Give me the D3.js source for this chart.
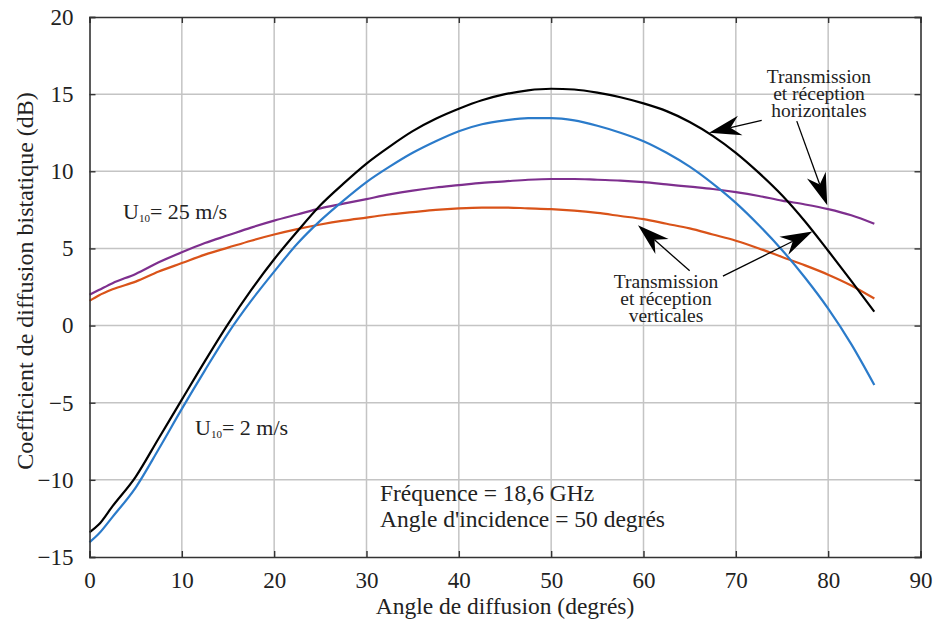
<!DOCTYPE html>
<html>
<head>
<meta charset="utf-8">
<script src="https://cdn.jsdelivr.net/npm/d3@7"></script>
<style>
  body { margin: 0; background: #fff; }
  svg text { font-family: "Liberation Serif", "Times New Roman", serif; fill: #222; }
</style>
</head>
<body>
<div id="chart"></div>
<script>
// scattering angle (deg)
var angles = [0, 1, 2.5, 5, 7.5, 10, 12.5, 15, 17.5, 20, 22.5, 25, 27.5, 30, 32.5, 35, 37.5, 40, 42.5,
  45, 47.5, 50, 52.5, 55, 57.5, 60, 62.5, 65, 67.5, 70, 72.5, 75, 77.5, 80, 82.5, 85];

// U10 = 2 m/s, horizontal (black)
var hh2 = [-13.4, -12.9, -11.7, -9.8, -7.3, -4.8, -2.3, 0.1, 2.3, 4.3, 6.1, 7.8, 9.2, 10.5, 11.6, 12.6,
  13.4, 14.05, 14.6, 15.0, 15.25, 15.35, 15.3, 15.1, 14.8, 14.4, 13.9, 13.2, 12.3, 11.2, 9.9, 8.45,
  6.75, 4.85, 2.9, 0.9];
// U10 = 2 m/s, vertical (blue)
var vv2 = [-14.05, -13.5, -12.4, -10.5, -8.0, -5.4, -2.9, -0.5, 1.6, 3.5, 5.3, 6.8, 8.1, 9.3, 10.3, 11.2,
  11.95, 12.6, 13.05, 13.3, 13.45, 13.45, 13.3, 12.95, 12.5, 11.95, 11.2, 10.3, 9.2, 7.95, 6.5, 4.9,
  3.1, 1.1, -1.2, -3.85];
// U10 = 25 m/s, horizontal (purple)
var hh25 = [2.0, 2.3, 2.75, 3.35, 4.1, 4.75, 5.35, 5.85, 6.35, 6.8, 7.2, 7.6, 7.9, 8.2, 8.5, 8.75,
  8.95, 9.1, 9.25, 9.35, 9.45, 9.5, 9.5, 9.45, 9.4, 9.3, 9.15, 9.0, 8.85, 8.65, 8.4, 8.1,
  7.85, 7.55, 7.15, 6.6];
// U10 = 25 m/s, vertical (orange)
var vv25 = [1.6, 1.95, 2.35, 2.85, 3.5, 4.05, 4.6, 5.05, 5.5, 5.9, 6.25, 6.55, 6.8, 7.0, 7.2, 7.35,
  7.5, 7.6, 7.65, 7.65, 7.6, 7.55, 7.45, 7.3, 7.1, 6.9, 6.6, 6.3, 5.9, 5.5, 5.0, 4.45,
  3.9, 3.3, 2.6, 1.75];

var xTicks = [0, 10, 20, 30, 40, 50, 60, 70, 80, 90];
var yTicks = [-15, -10, -5, 0, 5, 10, 15, 20];

var series = [
  { name: "vv25", values: vv25, color: "#d95319" },
  { name: "hh25", values: hh25, color: "#7e2f8e" },
  { name: "vv2", values: vv2, color: "#2b7bca" },
  { name: "hh2", values: hh2, color: "#000000" }
];

// arrows, in data units: [fromAngle, fromDb, toAngle, toDb]
var arrows = [
  [72.8, 13.3, 67.1, 12.5],
  [76.6, 13.25, 79.9, 7.8],
  [65.0, 3.55, 59.4, 6.5],
  [68.6, 3.2, 78.3, 6.1]
];

var width = 934, height = 625;
var margin = { left: 89.5, right: 13.5, top: 17, bottom: 68 };

var svg = d3.select("#chart").append("svg")
  .attr("width", width)
  .attr("height", height);

var x = d3.scaleLinear().domain([0, 90]).range([margin.left, width - margin.right]);
var y = d3.scaleLinear().domain([-15, 20]).range([height - margin.bottom, margin.top]);

// grid
svg.append("g").selectAll("line.vg")
  .data(xTicks.slice(1, -1))
  .enter().append("line")
  .attr("x1", d => x(d)).attr("x2", d => x(d))
  .attr("y1", y(-15)).attr("y2", y(20))
  .attr("stroke", "#c4c4c4").attr("stroke-width", 1.5);
svg.append("g").selectAll("line.hg")
  .data(yTicks.slice(1, -1))
  .enter().append("line")
  .attr("x1", x(0)).attr("x2", x(90))
  .attr("y1", d => y(d)).attr("y2", d => y(d))
  .attr("stroke", "#c4c4c4").attr("stroke-width", 1.5);

// curves
var line = d3.line()
  .x((d, i) => x(angles[i]))
  .y(d => y(d))
  .curve(d3.curveMonotoneX);

svg.append("g").selectAll("path")
  .data(series)
  .enter().append("path")
  .attr("d", d => line(d.values))
  .attr("fill", "none")
  .attr("stroke", d => d.color)
  .attr("stroke-width", 2.2);

// axes box with inward ticks
var tk = 6;
svg.append("g").attr("transform", "translate(0," + y(-15) + ")")
  .call(d3.axisBottom(x).tickValues(xTicks).tickSize(-tk).tickPadding(14))
  .call(g => g.selectAll("text").attr("font-size", 23).attr("dy", "0.72em"));
svg.append("g").attr("transform", "translate(0," + y(20) + ")")
  .call(d3.axisTop(x).tickValues(xTicks).tickSize(-tk).tickFormat(""));
svg.append("g").attr("transform", "translate(" + x(0) + ",0)")
  .call(d3.axisLeft(y).tickValues(yTicks).tickSize(-tk).tickPadding(16))
  .call(g => g.selectAll("text").attr("font-size", 23));
svg.append("g").attr("transform", "translate(" + x(90) + ",0)")
  .call(d3.axisRight(y).tickValues(yTicks).tickSize(-tk).tickFormat(""));
svg.selectAll(".domain").attr("stroke", "#333").attr("stroke-width", 1.6);
svg.selectAll(".tick line").attr("stroke", "#333").attr("stroke-width", 1.4);
svg.selectAll(".tick text").attr("fill", "#222").attr("font-family", "Liberation Serif");

// axis titles
svg.append("text")
  .attr("x", (x(0) + x(90)) / 2).attr("y", 614)
  .attr("text-anchor", "middle").attr("font-size", 23.5)
  .text("Angle de diffusion (degrés)");
svg.append("text")
  .attr("transform", "translate(33,281) rotate(-90)")
  .attr("text-anchor", "middle").attr("font-size", 24)
  .text("Coefficient de diffusion bistatique (dB)");

// U10 labels
function uLabel(ax, ay, rest) {
  var t = svg.append("text").attr("x", x(ax)).attr("y", y(ay)).attr("font-size", 22);
  t.append("tspan").text("U");
  t.append("tspan").attr("font-size", 11).attr("dy", 3).text("10");
  t.append("tspan").attr("dy", -3).text(rest);
}
uLabel(3.63, 6.91, "= 25 m/s");
uLabel(11.43, -7.09, "= 2 m/s");

// conditions
svg.append("text").attr("x", x(31.46)).attr("y", y(-11.37)).attr("font-size", 23.5)
  .text("Fréquence = 18,6 GHz");
svg.append("text").attr("x", x(31.46)).attr("y", y(-13.05)).attr("font-size", 23.5)
  .text("Angle d'incidence = 50 degrés");

// multi-line notes
function note(ax, ay, lines) {
  var t = svg.append("text").attr("x", x(ax)).attr("y", y(ay))
    .attr("text-anchor", "middle").attr("font-size", 19.5);
  lines.forEach(function(l, i) {
    t.append("tspan").attr("x", x(ax)).attr("dy", i === 0 ? 0 : 16.8).text(l);
  });
}
note(79.0, 15.72, ["Transmission", "et réception", "horizontales"]);
note(62.44, 2.44, ["Transmission", "et réception", "verticales"]);

// arrows with barbed heads
arrows.forEach(function(a) {
  var x1 = x(a[0]), y1 = y(a[1]), x2 = x(a[2]), y2 = y(a[3]);
  var ang = Math.atan2(y2 - y1, x2 - x1);
  var L = 32, W = 10, N = 22;
  var ux = Math.cos(ang), uy = Math.sin(ang);
  var px = -uy, py = ux;
  svg.append("line")
    .attr("x1", x1).attr("y1", y1)
    .attr("x2", x2 - ux * N).attr("y2", y2 - uy * N)
    .attr("stroke", "#000").attr("stroke-width", 1.3);
  var pts = [
    [x2, y2],
    [x2 - ux * L + px * W, y2 - uy * L + py * W],
    [x2 - ux * N, y2 - uy * N],
    [x2 - ux * L - px * W, y2 - uy * L - py * W]
  ];
  svg.append("path")
    .attr("d", "M" + pts.map(p => p.join(",")).join("L") + "Z")
    .attr("fill", "#000");
});
</script>
</body>
</html>
